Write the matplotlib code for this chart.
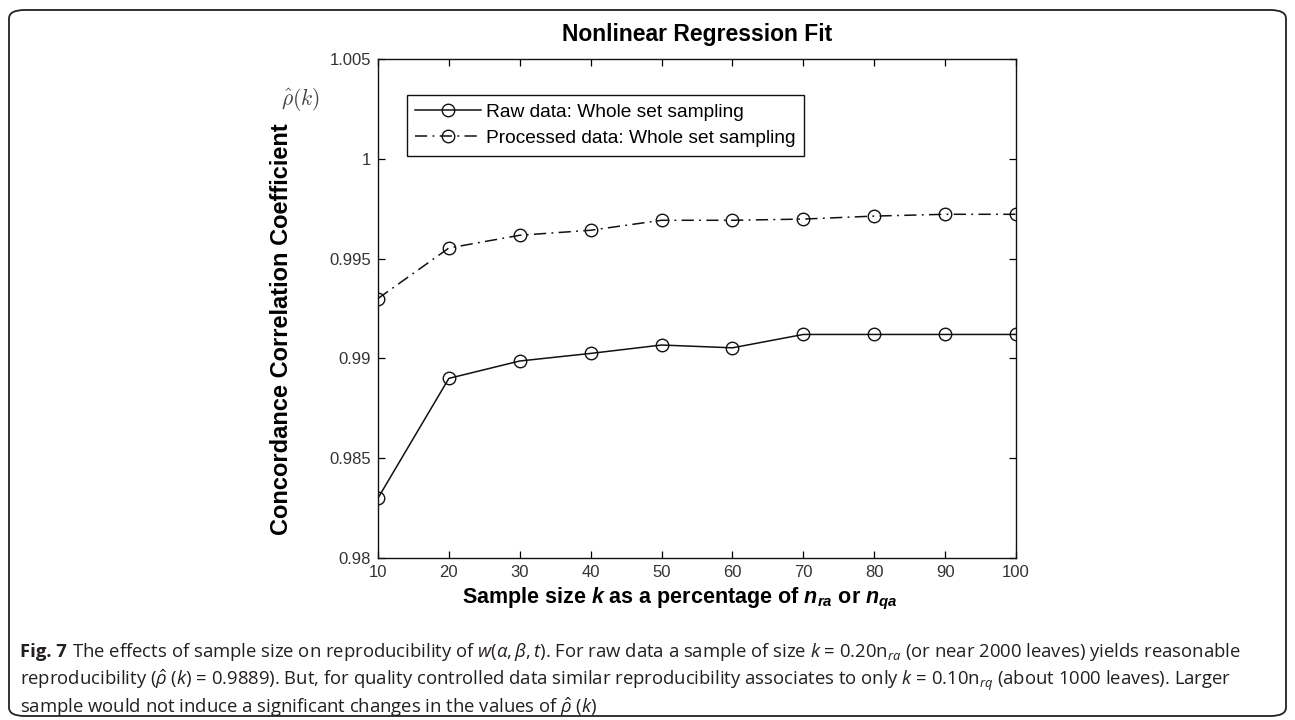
import matplotlib
matplotlib.use('Agg')
import matplotlib.pyplot as plt
from matplotlib.patches import FancyBboxPatch

# Datos
k_pct = [10, 20, 30, 40, 50, 60, 70, 80, 90, 100]
rho_raw = [0.9830, 0.9890, 0.98987, 0.99025, 0.99067, 0.99053, 0.9912, 0.9912, 0.9912, 0.9912]
rho_proc = [0.9930, 0.99553, 0.99617, 0.99642, 0.99692, 0.99692, 0.99698, 0.99713, 0.99722, 0.99722]
y_ticks = [0.98, 0.985, 0.99, 0.995, 1.0, 1.005]
y_tick_labels = ['0.98', '0.985', '0.99', '0.995', '1', '1.005']
x_ticks = [10, 20, 30, 40, 50, 60, 70, 80, 90, 100]
etiquetas = ['Raw data: Whole set sampling', 'Processed data: Whole set sampling']

plt.rcParams['font.family'] = ['Liberation Sans', 'DejaVu Sans']
plt.rcParams['mathtext.fontset'] = 'custom'
plt.rcParams['mathtext.rm'] = 'Open Sans'
plt.rcParams['mathtext.it'] = 'Open Sans:italic'
plt.rcParams['mathtext.bf'] = 'Liberation Sans:bold'
plt.rcParams['mathtext.bfit'] = 'Liberation Sans:italic:bold'

W, H = 1295, 720
fig = plt.figure(figsize=(W / 100, H / 100), dpi=100)

# marco redondeado de la figura
marco = FancyBboxPatch((9 / W, 4 / H), 1277 / W, 706 / H,
                       boxstyle='round,pad=0,rounding_size=0.012',
                       transform=fig.transFigure, fill=False,
                       edgecolor='#222222', linewidth=1.3)
fig.patches.append(marco)

ax = fig.add_axes([378 / W, 1 - 558 / H, (1016 - 378) / W, (558 - 59) / H])

ax.plot(k_pct, rho_raw, '-', color='#111111', linewidth=1.1,
        marker='o', markersize=9, markerfacecolor='none',
        markeredgecolor='#111111', markeredgewidth=1.0, label=etiquetas[0])
ax.plot(k_pct, rho_proc, color='#111111', linewidth=1.1,
        linestyle=(0, (8, 3.5, 1.2, 3.5)),
        marker='o', markersize=9, markerfacecolor='none',
        markeredgecolor='#111111', markeredgewidth=1.0, label=etiquetas[1])

ax.set_xlim(10, 100)
ax.set_ylim(0.98, 1.005)
ax.set_xticks(x_ticks)
ax.set_yticks(y_ticks)
ax.set_yticklabels(y_tick_labels)
ax.tick_params(direction='in', length=5, width=0.9, top=True, right=True,
               labelsize=12, labelcolor='#333333', pad=5)
for s in ax.spines.values():
    s.set_linewidth(1.0)
    s.set_color('#111111')

ax.set_title('Nonlinear Regression Fit', fontsize=16.5, fontweight='bold', pad=13)
ax.set_ylabel('Concordance Correlation Coefficient', fontsize=17,
              fontweight='bold')
ax.yaxis.set_label_coords(-0.133, 0.459)
ax.set_xlabel(r'Sample size $\mathbfit{k}$ as a percentage of '
              r'$\mathbfit{n}_{\mathbfit{ra}}$ or $\mathbfit{n}_{\mathbfit{qa}}$',
              fontsize=15.5, fontweight='bold', labelpad=6)
ax.xaxis.set_label_coords(0.473, -0.055)

fig.text(300 / W, 1 - 100 / H, r'$\hat{\rho}(k)$', fontsize=15.5,
         color='#444444', ha='center', va='center', math_fontfamily='cm')

leg = ax.legend(loc='upper left', bbox_to_anchor=(0.045, 0.928),
                borderaxespad=0, fontsize=13.8, handlelength=3.4,
                fancybox=False, framealpha=1, edgecolor='#111111',
                borderpad=0.45, labelspacing=0.45, handletextpad=0.3)
leg.get_frame().set_linewidth(1.0)

# pie de figura
col = '#231f20'
fs = 13.3
r = fig.canvas.get_renderer()
t0 = fig.text(20 / W, 1 - 652 / H, 'Fig. 7', fontsize=fs, fontweight='bold',
              family='Open Sans', color=col, va='center')
bb = t0.get_window_extent(r)
fig.text(bb.x1 / W + 5 / W, 1 - 652 / H,
         r'The effects of sample size on reproducibility of $w(\alpha,\beta,t)$. '
         r'For raw data a sample of size $k$ = 0.20n$_{ra}$ (or near 2000 leaves) '
         r'yields reasonable',
         fontsize=fs, family='Open Sans', color=col, va='center')
fig.text(20 / W, 1 - 680 / H,
         r'reproducibility ($\hat{\rho}$ ($k$) = 0.9889). But, for quality controlled '
         r'data similar reproducibility associates to only $k$ = 0.10n$_{rq}$ '
         r'(about 1000 leaves). Larger',
         fontsize=fs, family='Open Sans', color=col, va='center')
fig.text(20 / W, 1 - 707 / H,
         r'sample would not induce a significant changes in the values of '
         r'$\hat{\rho}$ ($k$)',
         fontsize=fs, family='Open Sans', color=col, va='center')

fig.savefig('out.png', dpi=100)
